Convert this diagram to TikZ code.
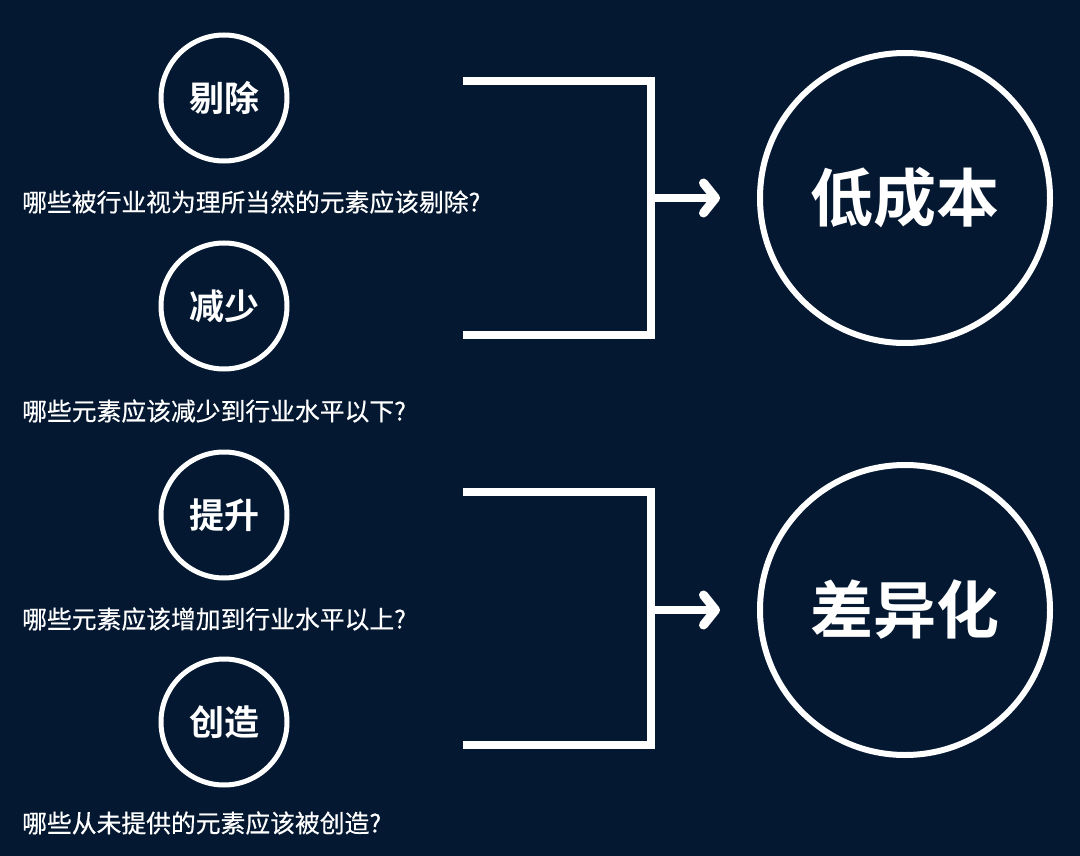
\documentclass[tikz,border=0pt]{standalone}
\usepackage{fontspec}
\setmainfont{Noto Sans CJK SC}[BoldFont={Noto Sans CJK SC Bold}]
\newfontfamily\qfont{Noto Sans CJK SC}[FakeBold=0.5]
\usetikzlibrary{arrows.meta}
\definecolor{navy}{HTML}{041931}
\begin{document}
\begin{tikzpicture}[x=1pt,y=-1pt,
  small/.style={draw=white,circle,line width=5pt,minimum size=126pt,inner sep=0pt,text=white,font=\bfseries\fontsize{35}{35}\selectfont},
  big/.style={draw=white,circle,line width=6pt,minimum size=290pt,inner sep=0pt,text=white,font=\bfseries\fontsize{63}{63}\selectfont},
  question/.style={anchor=west,inner sep=0pt,text=white,font=\qfont\fontsize{24.8}{25}\selectfont},
  bracket/.style={draw=white,line width=8.5pt}]
\fill[navy] (0,0) rectangle (1080,856);
\node[small] (1) at (224,98) {剔除};
\node[small] (2) at (224,306) {减少};
\node[small] (3) at (224,515) {提升};
\node[small] (4) at (224,722) {创造};
\node[question] (q1) at (22,202) {哪些被行业视为理所当然的元素应该剔除?};
\node[question] (q2) at (22,411) {哪些元素应该减少到行业水平以下?};
\node[question] (q3) at (22,619) {哪些元素应该增加到行业水平以上?};
\node[question] (q4) at (22,823) {哪些从未提供的元素应该被创造?};
\node[big] (a) at (905,198) {低成本};
\node[big] (b) at (905,610) {差异化};

\coordinate (t1) at (463,81);
\coordinate (b1) at (463,335);
\coordinate (j1) at (651,198);
\coordinate (t2) at (463,492);
\coordinate (b2) at (463,745);
\coordinate (j2) at (651,610);

\path[bracket] (t1) -| (j1) |- (b1);
\path[bracket] (t2) -| (j2) |- (b2);
\path[draw=white,line width=8pt,-{Straight Barb[round,length=12pt,width=30pt,line width=9pt]}] (j1) -- (720,198);
\path[draw=white,line width=8pt,-{Straight Barb[round,length=12pt,width=30pt,line width=9pt]}] (j2) -- (720,610);
\end{tikzpicture}
\end{document}
